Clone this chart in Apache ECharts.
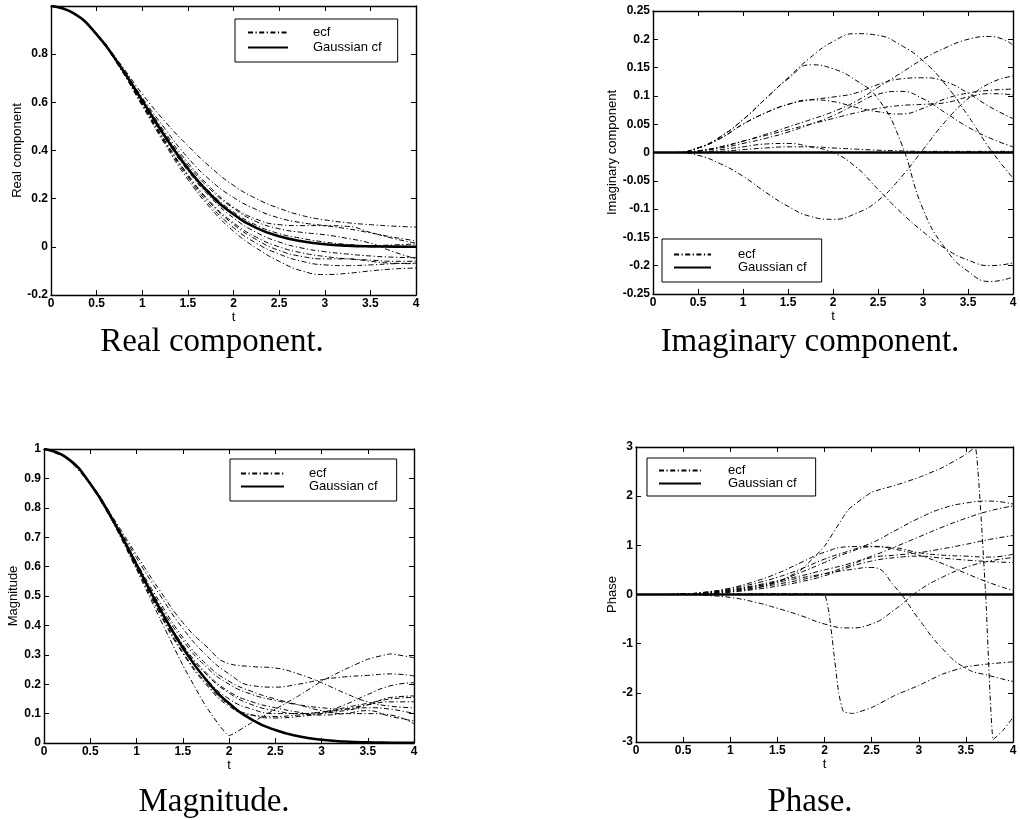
<!DOCTYPE html>
<html>
<head>
<meta charset="utf-8">
<script src="https://cdn.jsdelivr.net/npm/echarts@6/dist/echarts.min.js"></script>
<style>
  html, body { margin: 0; padding: 0; background: #fff; }
  #chart { width: 1020px; height: 820px; }
</style>
</head>
<body>
<div id="chart"></div>
<script>
// Frequency grid shared by most curves
const t = [0, 0.25, 0.5, 0.75, 1, 1.25, 1.5, 1.75, 2, 2.25, 2.5, 2.75, 3, 3.25, 3.5, 3.75, 4];
const xTicks = ['0', '0.5', '1', '1.5', '2', '2.5', '3', '3.5', '4'];

// ---- Real component ----
const realGauss = [1, 0.969, 0.882, 0.755, 0.607, 0.458, 0.325, 0.216, 0.135, 0.079, 0.044, 0.023, 0.011, 0.005, 0.002, 0.001, 0.0003];
const realEcf1 = [1, 0.97, 0.885, 0.765, 0.635, 0.52, 0.42, 0.33, 0.255, 0.2, 0.16, 0.13, 0.112, 0.1, 0.092, 0.086, 0.082];
const realEcf2 = [1, 0.97, 0.884, 0.76, 0.62, 0.49, 0.37, 0.275, 0.205, 0.155, 0.12, 0.1, 0.088, 0.075, 0.058, 0.04, 0.025];
const realEcf3 = [1, 0.969, 0.883, 0.758, 0.615, 0.475, 0.35, 0.245, 0.165, 0.115, 0.092, 0.088, 0.088, 0.085, 0.06, 0.035, 0.015];
const realEcf4 = [1, 0.969, 0.882, 0.755, 0.607, 0.462, 0.33, 0.225, 0.145, 0.09, 0.055, 0.035, 0.02, 0.01, 0.005, 0.008, 0.012];
const realEcf5 = [1, 0.969, 0.881, 0.752, 0.6, 0.45, 0.315, 0.205, 0.12, 0.06, 0.02, -0.005, -0.02, -0.03, -0.038, -0.043, -0.045];
const realEcf6 = [1, 0.969, 0.881, 0.75, 0.595, 0.44, 0.3, 0.185, 0.1, 0.04, 0.0, -0.025, -0.04, -0.05, -0.055, -0.06, -0.06];
const realEcf7 = [1, 0.968, 0.878, 0.745, 0.585, 0.425, 0.28, 0.16, 0.065, -0.005, -0.06, -0.1, -0.115, -0.11, -0.1, -0.092, -0.088];
const realEcf8 = [1, 0.968, 0.879, 0.748, 0.59, 0.432, 0.29, 0.17, 0.08, 0.015, -0.03, -0.06, -0.075, -0.078, -0.075, -0.07, -0.068];
const realEcf9 = [1, 0.969, 0.88, 0.75, 0.593, 0.437, 0.297, 0.18, 0.093, 0.03, -0.015, -0.04, -0.05, -0.05, -0.06, -0.068, -0.07];
const realEcf10 = [1, 0.969, 0.883, 0.757, 0.61, 0.467, 0.34, 0.237, 0.16, 0.105, 0.075, 0.06, 0.05, 0.035, 0.015, -0.02, -0.05];

// ---- Imaginary component ----
const imagGauss = [0, 0, 0, 0, 0, 0, 0, 0, 0, 0, 0, 0, 0, 0, 0, 0, 0];
const imagEcf1 = [0, 0, 0.008, 0.028, 0.058, 0.095, 0.132, 0.168, 0.196, 0.21, 0.207, 0.19, 0.162, 0.12, 0.065, 0.005, -0.045];
const imagEcf2 = [0, 0, 0.008, 0.028, 0.058, 0.095, 0.13, 0.155, 0.148, 0.128, 0.095, 0.02, -0.1, -0.17, -0.21, -0.228, -0.22];
const imagEcf3 = [0, 0, -0.005, -0.02, -0.042, -0.07, -0.095, -0.113, -0.118, -0.108, -0.085, -0.045, 0.005, 0.055, 0.095, 0.123, 0.135];
const imagEcf4 = [0, 0, 0.003, 0.01, 0.02, 0.032, 0.045, 0.058, 0.072, 0.09, 0.115, 0.14, 0.165, 0.185, 0.2, 0.205, 0.19];
const imagEcf5 = [0, 0, 0, 0.005, 0.01, 0.015, 0.016, 0.01, 0, -0.025, -0.065, -0.105, -0.14, -0.17, -0.19, -0.2, -0.195];
const imagEcf6 = [0, 0, 0.008, 0.025, 0.05, 0.07, 0.085, 0.093, 0.098, 0.105, 0.12, 0.13, 0.132, 0.125, 0.105, 0.08, 0.06];
const imagEcf7 = [0, 0, 0.002, 0.008, 0.016, 0.025, 0.036, 0.05, 0.065, 0.085, 0.103, 0.108, 0.095, 0.07, 0.045, 0.025, 0.01];
const imagEcf8 = [0, 0, 0.008, 0.025, 0.05, 0.07, 0.085, 0.093, 0.09, 0.08, 0.072, 0.068, 0.078, 0.095, 0.105, 0.11, 0.112];
const imagEcf9 = [0, 0, 0.003, 0.01, 0.02, 0.03, 0.04, 0.05, 0.06, 0.07, 0.078, 0.083, 0.085, 0.088, 0.098, 0.104, 0.102];
const imagEcf10 = [0, 0, 0, 0.002, 0.005, 0.008, 0.01, 0.01, 0.008, 0.006, 0.004, 0.003, 0.002, 0.002, 0.002, 0.002, 0.002];

// ---- Magnitude ----
const magGauss = [1, 0.969, 0.882, 0.755, 0.607, 0.458, 0.325, 0.216, 0.135, 0.079, 0.044, 0.023, 0.011, 0.005, 0.002, 0.001, 0.0003];
const magEcf1 = [1, 0.969, 0.885, 0.765, 0.64, 0.52, 0.41, 0.33, 0.27, 0.26, 0.255, 0.235, 0.205, 0.17, 0.14, 0.125, 0.12];
const magEcf2 = [1, 0.969, 0.884, 0.76, 0.63, 0.505, 0.39, 0.3, 0.235, 0.195, 0.19, 0.2, 0.215, 0.225, 0.23, 0.235, 0.228];
const magEcf3 = [1, 0.969, 0.88, 0.748, 0.59, 0.425, 0.265, 0.125, 0.025, 0.07, 0.115, 0.16, 0.21, 0.25, 0.285, 0.303, 0.29];
const magEcf4 = [1, 0.969, 0.883, 0.757, 0.61, 0.47, 0.35, 0.26, 0.2, 0.165, 0.145, 0.13, 0.12, 0.115, 0.13, 0.155, 0.16];
const magEcf5 = [1, 0.969, 0.882, 0.755, 0.605, 0.46, 0.33, 0.235, 0.17, 0.13, 0.11, 0.1, 0.105, 0.13, 0.165, 0.195, 0.205];
const magEcf6 = [1, 0.969, 0.882, 0.753, 0.6, 0.45, 0.32, 0.22, 0.15, 0.115, 0.1, 0.1, 0.105, 0.115, 0.13, 0.14, 0.14];
const magEcf7 = [1, 0.969, 0.881, 0.75, 0.595, 0.44, 0.305, 0.2, 0.125, 0.095, 0.09, 0.095, 0.1, 0.11, 0.12, 0.115, 0.1];
const magEcf8 = [1, 0.969, 0.882, 0.755, 0.607, 0.462, 0.335, 0.24, 0.175, 0.14, 0.12, 0.105, 0.095, 0.1, 0.11, 0.09, 0.075];
const magEcf9 = [1, 0.969, 0.883, 0.758, 0.615, 0.48, 0.36, 0.27, 0.21, 0.175, 0.15, 0.13, 0.11, 0.1, 0.1, 0.095, 0.065];
const magEcf10 = [1, 0.969, 0.881, 0.752, 0.598, 0.445, 0.31, 0.205, 0.13, 0.095, 0.085, 0.09, 0.1, 0.12, 0.135, 0.15, 0.155];

// ---- Phase ----
const phaseGauss = [0, 0, 0, 0, 0, 0, 0, 0, 0, 0, 0, 0, 0, 0, 0, 0, 0];
// two curves jump quickly, so they carry their own finer t samples
const tPhase1 = [0, 0.25, 0.5, 0.75, 1, 1.25, 1.5, 1.75, 2, 2.25, 2.5, 2.75, 3, 3.25, 3.5, 3.6, 3.71, 3.79, 3.9, 4];
const phaseEcf1 = [0, 0, 0, 0.01, 0.05, 0.12, 0.25, 0.5, 0.98, 1.72, 2.08, 2.22, 2.38, 2.58, 2.85, 3.0, 0.0, -2.95, -2.75, -2.5];
const tPhase2 = [0, 0.25, 0.5, 0.75, 1, 1.25, 1.5, 1.75, 2, 2.05, 2.1, 2.15, 2.2, 2.3, 2.5, 2.75, 3, 3.25, 3.5, 3.75, 4];
const phaseEcf2 = [0, 0, 0, 0.005, 0.01, 0.015, 0.02, 0.015, 0.0, -0.4, -1.2, -2.0, -2.38, -2.42, -2.3, -2.05, -1.85, -1.62, -1.47, -1.41, -1.37];
const phaseEcf3 = [0, 0, 0, -0.02, -0.06, -0.15, -0.28, -0.43, -0.6, -0.68, -0.6, -0.3, 0.08, 0.35, 0.55, 0.68, 0.75];
const phaseEcf4 = [0, 0, 0.01, 0.04, 0.09, 0.16, 0.25, 0.34, 0.42, 0.5, 0.55, 0.15, -0.5, -1.1, -1.5, -1.65, -1.77];
const phaseEcf5 = [0, 0, 0.01, 0.05, 0.12, 0.22, 0.35, 0.52, 0.72, 0.88, 1.05, 1.3, 1.55, 1.75, 1.86, 1.9, 1.84];
const phaseEcf6 = [0, 0, 0.01, 0.04, 0.1, 0.18, 0.28, 0.38, 0.5, 0.62, 0.78, 0.97, 1.17, 1.37, 1.55, 1.7, 1.8];
const phaseEcf7 = [0, 0, 0.01, 0.05, 0.13, 0.26, 0.43, 0.65, 0.86, 0.97, 0.98, 0.92, 0.8, 0.63, 0.43, 0.24, 0.08];
const phaseEcf8 = [0, 0, 0.005, 0.03, 0.07, 0.13, 0.21, 0.3, 0.42, 0.58, 0.75, 0.8, 0.85, 0.93, 1.02, 1.12, 1.2];
const phaseEcf9 = [0, 0, 0.005, 0.03, 0.08, 0.16, 0.27, 0.45, 0.65, 0.85, 0.97, 0.95, 0.85, 0.8, 0.78, 0.76, 0.82];
const phaseEcf10 = [0, 0, 0.005, 0.02, 0.05, 0.1, 0.17, 0.26, 0.38, 0.55, 0.68, 0.75, 0.78, 0.74, 0.7, 0.67, 0.65];

// ---- Styling helpers ----
const SANS = 'Liberation Sans, Arial, Helvetica, sans-serif';
const SERIF = 'Liberation Serif, Times New Roman, serif';
const DASH_DOT = [5, 2.5, 1.2, 2.5];
const CLEAR = 'rgba(0,0,0,0)';

// ecf curves with a sharp corner or jump get light smoothing (index within the panel)
const panels = [
  { grid: { left: 51, top: 6, width: 365, height: 289 },
    yName: 'Real component', yMin: -0.2, yMax: 1, yStep: 0.2, hideTop: true, nameGap: 27,
    gauss: [t, realGauss], sharp: [],
    ecf: [realEcf1, realEcf2, realEcf3, realEcf4, realEcf5, realEcf6, realEcf7, realEcf8, realEcf9, realEcf10].map(v => [t, v]),
    legend: { left: 235, top: 19, padding: [7, 16, 8, 12], itemWidth: 40, itemHeight: 14, itemGap: 2, textPad: 20 } },
  { grid: { left: 653, top: 11, width: 360, height: 283 },
    yName: 'Imaginary component', yMin: -0.25, yMax: 0.25, yStep: 0.05, hideTop: false, nameGap: 34,
    gauss: [t, imagGauss], sharp: [],
    ecf: [imagEcf1, imagEcf2, imagEcf3, imagEcf4, imagEcf5, imagEcf6, imagEcf7, imagEcf8, imagEcf9, imagEcf10].map(v => [t, v]),
    legend: { left: 662, top: 239, padding: [9, 15, 8, 11], itemWidth: 37, itemHeight: 13, itemGap: 0, textPad: 22 } },
  { grid: { left: 44, top: 449, width: 370, height: 294 },
    yName: 'Magnitude', yMin: 0, yMax: 1, yStep: 0.1, hideTop: false, nameGap: 21,
    gauss: [t, magGauss], sharp: [2],
    ecf: [magEcf1, magEcf2, magEcf3, magEcf4, magEcf5, magEcf6, magEcf7, magEcf8, magEcf9, magEcf10].map(v => [t, v]),
    legend: { left: 230, top: 459, padding: [8, 19, 8, 10], itemWidth: 43, itemHeight: 15, itemGap: 0, textPad: 20 } },
  { grid: { left: 636, top: 447, width: 377, height: 295 },
    yName: 'Phase', yMin: -3, yMax: 3, yStep: 1, hideTop: false, nameGap: 17,
    gauss: [t, phaseGauss], sharp: [0, 1],
    ecf: [[tPhase1, phaseEcf1], [tPhase2, phaseEcf2], [t, phaseEcf3], [t, phaseEcf4], [t, phaseEcf5],
          [t, phaseEcf6], [t, phaseEcf7], [t, phaseEcf8], [t, phaseEcf9], [t, phaseEcf10]],
    legend: { left: 647, top: 458, padding: [6, 19, 6, 11], itemWidth: 42, itemHeight: 15, itemGap: 0, textPad: 22 } }
];

const captions = [
  { text: 'Real component.', x: 212, y: 342 },
  { text: 'Imaginary component.', x: 810, y: 342 },
  { text: 'Magnitude.', x: 214, y: 802 },
  { text: 'Phase.', x: 810, y: 802 }
];

const zip = (xs, ys) => xs.map((x, i) => [x, ys[i]]);
const fmtNum = v => String(Math.round(v * 1000) / 1000);

const grid = [], xAxis = [], yAxis = [], series = [], legend = [];

panels.forEach((p, i) => {
  grid.push(Object.assign({ containLabel: false, show: false }, p.grid));
  const frame = { show: true, onZero: false, lineStyle: { color: '#000', width: 1.4 } };
  const tick = { show: true, inside: true, length: 5, lineStyle: { color: '#000', width: 1 } };
  const lbl = { color: '#000', fontFamily: SANS, fontSize: 12, fontWeight: 'bold' };
  // bottom / top x axes
  xAxis.push({
    type: 'value', gridIndex: i, min: 0, max: 4, interval: 0.5, position: 'bottom',
    name: 't', nameLocation: 'middle', nameGap: 15,
    nameTextStyle: { color: '#000', fontFamily: SANS, fontSize: 13 },
    axisLine: frame, axisTick: tick, splitLine: { show: false },
    axisLabel: Object.assign({ margin: 3, formatter: v => xTicks[Math.round(v * 2)] }, lbl)
  });
  xAxis.push({
    type: 'value', gridIndex: i, min: 0, max: 4, interval: 0.5, position: 'top',
    axisLine: frame, axisTick: tick, axisLabel: { show: false }, splitLine: { show: false }
  });
  // left / right y axes
  yAxis.push({
    type: 'value', gridIndex: i, min: p.yMin, max: p.yMax, interval: p.yStep, position: 'left',
    name: p.yName, nameLocation: 'middle', nameGap: p.nameGap, nameRotate: 90,
    nameTextStyle: { color: '#000', fontFamily: SANS, fontSize: 13 },
    axisLine: frame, axisTick: tick, splitLine: { show: false },
    axisLabel: Object.assign({ margin: 3, formatter: v => (p.hideTop && Math.abs(v - p.yMax) < 1e-9) ? '' : fmtNum(v) }, lbl)
  });
  yAxis.push({
    type: 'value', gridIndex: i, min: p.yMin, max: p.yMax, interval: p.yStep, position: 'right',
    axisLine: frame, axisTick: tick, axisLabel: { show: false }, splitLine: { show: false }
  });

  p.ecf.forEach(([xs, ys], k) => {
    const sharp = p.sharp.indexOf(k) >= 0;
    series.push({
      type: 'line', name: 'ecf', xAxisIndex: 2 * i, yAxisIndex: 2 * i,
      data: zip(xs, ys), symbol: 'none', smooth: sharp ? 0.12 : 0.5,
      lineStyle: { color: '#000', width: 1, type: DASH_DOT },
      itemStyle: { color: '#000' }, silent: true, z: 2
    });
  });
  series.push({
    type: 'line', name: 'Gaussian cf', xAxisIndex: 2 * i, yAxisIndex: 2 * i,
    data: zip(p.gauss[0], p.gauss[1]), symbol: 'none', smooth: 0.5,
    lineStyle: { color: '#000', width: 2.6, type: 'solid' },
    itemStyle: { color: '#000' }, silent: true, z: 3
  });

  const L = p.legend;
  legend.push({
    data: ['ecf', 'Gaussian cf'], orient: 'vertical', left: L.left, top: L.top,
    padding: L.padding, itemWidth: L.itemWidth, itemHeight: L.itemHeight, itemGap: L.itemGap,
    backgroundColor: '#fff', borderColor: '#000', borderWidth: 1, selectedMode: false,
    itemStyle: { color: CLEAR, borderColor: CLEAR, borderWidth: 0, opacity: 0 },
    textStyle: { color: '#000', fontFamily: SANS, fontSize: 13, padding: [0, 0, 0, L.textPad] },
    z: 10
  });
});

const chart = echarts.init(document.getElementById('chart'), null, { renderer: 'canvas' });
chart.setOption({
  backgroundColor: '#fff',
  animation: false,
  grid, xAxis, yAxis, series, legend,
  graphic: captions.map(c => ({
    type: 'text', x: c.x, y: c.y, silent: true,
    style: { text: c.text, fill: '#000', font: '33px ' + SERIF, textAlign: 'center', textVerticalAlign: 'middle' }
  }))
});
</script>
</body>
</html>
